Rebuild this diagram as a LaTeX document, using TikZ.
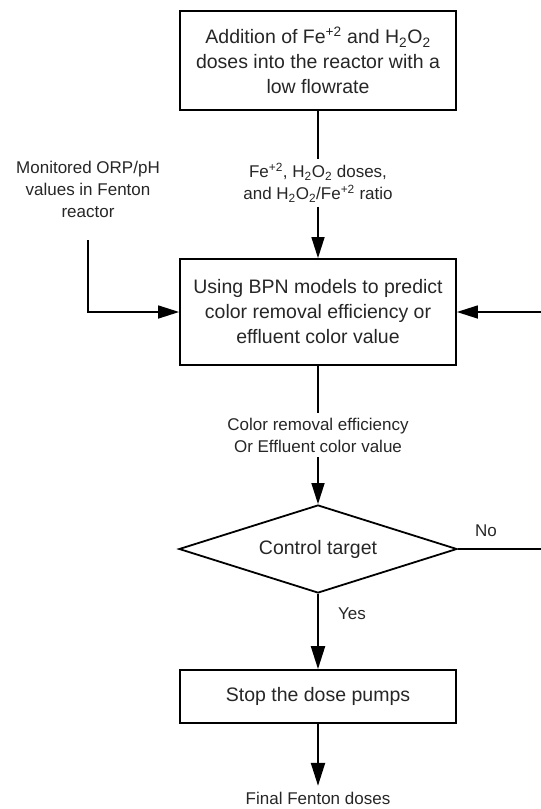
\documentclass[tikz,border=0pt]{standalone}
\usepackage{fontspec}
\setmainfont{Liberation Sans}
\usetikzlibrary{arrows.meta,shapes.geometric}
\tikzset{
  boxnode/.style={draw, line width=1.8pt, minimum width=276pt, inner sep=0pt, align=center,
    font=\fontsize{19.5}{25}\selectfont, text=black!85},
  decnode/.style={draw, diamond, line width=1.8pt, minimum width=278pt, minimum height=88pt,
    inner sep=0pt, aspect=3.16, font=\fontsize{19.5}{25}\selectfont, text=black!85},
  lbl/.style={align=center, inner sep=0pt, font=\fontsize{17}{22}\selectfont, text=black!85},
  conn/.style={line width=1.5pt},
  arr/.style={line width=1.5pt, -{Triangle[length=21pt,width=13pt]}},
  arrb/.style={line width=2.2pt, -{Triangle[length=23pt,width=14pt]}}
}
\begin{document}
\begin{tikzpicture}[x=1pt,y=-1pt]
\useasboundingbox (0,0) rectangle (541,809);
% boxes
\node[boxnode, minimum height=99pt] (top) at (318,60.5)
  {Addition of Fe\textsuperscript{+2} and H\textsubscript{2}O\textsubscript{2}\\doses into the reactor with a\\low flowrate};
\node[boxnode, minimum height=106pt] (mid) at (318,312)
  {Using BPN models to predict\\color removal efficiency or\\effluent color value};
\node[decnode] (dec) at (318,549) {Control target};
\node[boxnode, minimum height=53pt] (stop) at (318,696.5) {Stop the dose pumps};
% labels
\node[lbl, minimum height=48pt] (lab1) at (318,183)
  {Fe\textsuperscript{+2}, H\textsubscript{2}O\textsubscript{2} doses,\\and H\textsubscript{2}O\textsubscript{2}/Fe\textsuperscript{+2} ratio};
\node[lbl, minimum height=44pt] (lab2) at (318,435)
  {Color removal efficiency\\Or Effluent color value};
\node[lbl, minimum height=101pt] (lab3) at (88,189.5)
  {Monitored ORP/pH\\values in Fenton\\reactor};
\node[lbl, minimum height=24pt] (final) at (318,798) {Final Fenton doses};
\node[lbl, anchor=west] (yes) at (338,614) {Yes};
\node[lbl] (no) at (486,531) {No};
\coordinate (re1) at (541,312);
\coordinate (re2) at (541,549);
% connectors
\draw[conn] (top.south) -- (lab1.north);
\draw[arr] (lab1.south) -- (mid.north);
\draw[arr] (lab3.south) |- (mid.west);
\draw[arr] (re1) -- (mid.east);
\draw[conn] (mid.south) -- (lab2.north);
\draw[arr] (lab2.south) -- (dec.north);
\draw[conn] (dec.east) -- (re2);
\draw[arrb] (dec.south) -- (stop.north);
\draw[arrb] (stop.south) -- (final.north);
\end{tikzpicture}
\end{document}
